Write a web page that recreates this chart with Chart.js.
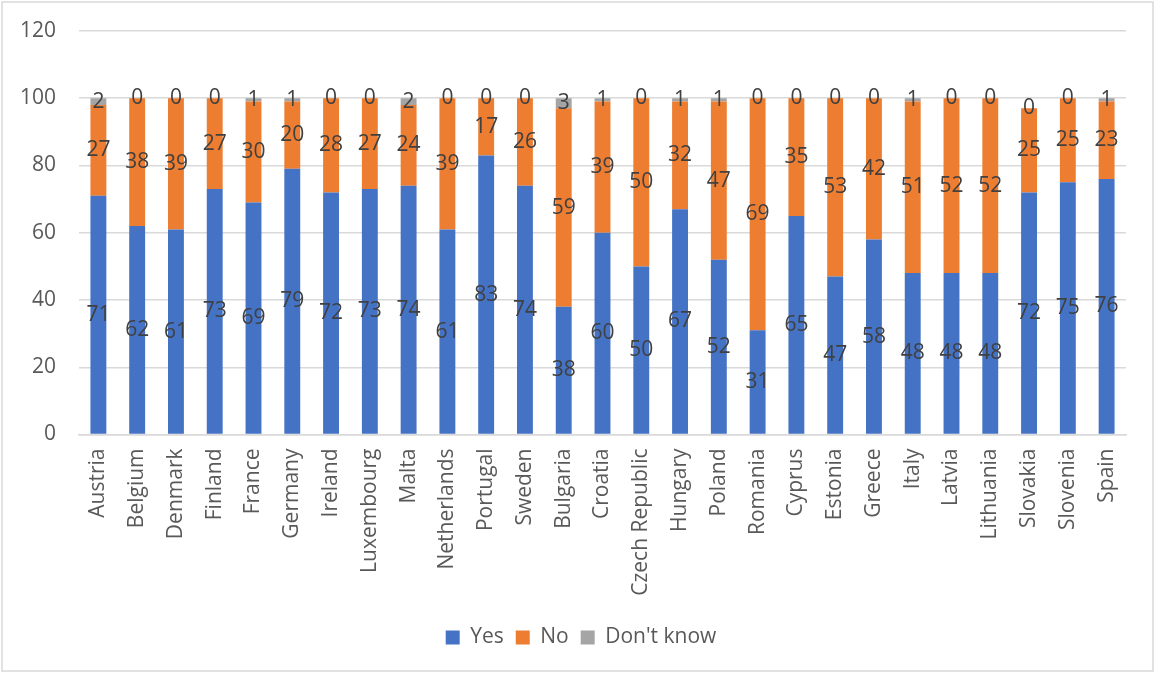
<!DOCTYPE html>
<html>
<head>
<meta charset="utf-8">
<title>Yes / No / Don't know by country</title>
<script src="https://cdn.jsdelivr.net/npm/chart.js@4/dist/chart.umd.min.js"></script>
<style>
    html, body { margin: 0; padding: 0; background: #fff; }
    #wrap { width: 1155px; height: 673px; position: relative; }
    canvas { display: block; }
</style>
</head>
<body>
<div id="wrap"><canvas id="chart" width="1155" height="673"></canvas></div>
<script>
const countries = ['Austria', 'Belgium', 'Denmark', 'Finland', 'France', 'Germany', 'Ireland',
    'Luxembourg', 'Malta', 'Netherlands', 'Portugal', 'Sweden', 'Bulgaria', 'Croatia',
    'Czech Republic', 'Hungary', 'Poland', 'Romania', 'Cyprus', 'Estonia', 'Greece', 'Italy',
    'Latvia', 'Lithuania', 'Slovakia', 'Slovenia', 'Spain'];
const yesValues = [71, 62, 61, 73, 69, 79, 72, 73, 74, 61, 83, 74, 38, 60, 50, 67, 52, 31, 65, 47, 58, 48, 48, 48, 72, 75, 76];
const noValues = [27, 38, 39, 27, 30, 20, 28, 27, 24, 39, 17, 26, 59, 39, 50, 32, 47, 69, 35, 53, 42, 51, 52, 52, 25, 25, 23];
const dontKnowValues = [2, 0, 0, 0, 1, 1, 0, 0, 2, 0, 0, 0, 3, 1, 0, 1, 1, 0, 0, 0, 0, 1, 0, 0, 0, 0, 1];
const seriesNames = ['Yes', 'No', "Don't know"];
const seriesColors = ['#4472C4', '#ED7D31', '#A5A5A5'];

const FONT = '"Open Sans", "Noto Sans", sans-serif';
const FONT_SIZE = 21;

// outer frame around the chart
const framePlugin = {
    id: 'frame',
    beforeDraw(chart) {
        const ctx = chart.ctx;
        ctx.save();
        ctx.strokeStyle = '#D9D9D9';
        ctx.lineWidth = 1.5;
        ctx.strokeRect(2, 2, chart.width - 4, chart.height - 4);
        ctx.restore();
    }
};

// nudge the legend a little to the right
const legendShift = {
    id: 'legendShift',
    afterLayout(chart) {
        chart.legend.left += 18;
        chart.legend.right += 18;
    }
};

// value labels in the middle of each segment
const valueLabels = {
    id: 'valueLabels',
    afterDatasetsDraw(chart) {
        const ctx = chart.ctx;
        ctx.save();
        ctx.font = FONT_SIZE + 'px ' + FONT;
        ctx.fillStyle = '#404040';
        ctx.textAlign = 'center';
        ctx.textBaseline = 'middle';
        chart.data.datasets.forEach((ds, di) => {
            const meta = chart.getDatasetMeta(di);
            meta.data.forEach((bar, i) => {
                const y = (bar.y + bar.base) / 2;
                ctx.fillText(String(ds.data[i]), bar.x, y);
            });
        });
        ctx.restore();
    }
};

new Chart(document.getElementById('chart'), {
    type: 'bar',
    data: {
        labels: countries,
        datasets: [yesValues, noValues, dontKnowValues].map((vals, i) => ({
            label: seriesNames[i],
            data: vals,
            backgroundColor: seriesColors[i],
            borderWidth: 0,
            categoryPercentage: 1,
            barPercentage: 0.41
        }))
    },
    options: {
        responsive: false,
        animation: false,
        layout: { padding: { top: 31, right: 29, left: 0, bottom: 15 } },
        plugins: {
            legend: {
                position: 'bottom',
                labels: {
                    font: { family: FONT, size: FONT_SIZE },
                    color: '#595959',
                    boxWidth: 14,
                    boxHeight: 14,
                    padding: 12
                }
            },
            tooltip: { enabled: false }
        },
        scales: {
            x: {
                stacked: true,
                grid: { display: false, drawTicks: false },
                border: { color: '#D9D9D9', width: 1.5 },
                ticks: {
                    font: { family: FONT, size: FONT_SIZE },
                    color: '#595959',
                    minRotation: 90,
                    maxRotation: 90,
                    autoSkip: false,
                    padding: 14
                },
                afterFit(scale) { scale.height = 180.5; }
            },
            y: {
                stacked: true,
                min: 0,
                max: 120,
                // invisible tick marks keep the labels clear of the plot
                grid: { color: '#D9D9D9', lineWidth: 1.5, tickLength: 23, tickColor: 'rgba(0,0,0,0)' },
                border: { display: false },
                ticks: {
                    stepSize: 20,
                    font: { family: FONT, size: FONT_SIZE },
                    color: '#595959',
                    padding: 0
                },
                afterFit(scale) { scale.width = 79; }
            }
        }
    },
    plugins: [framePlugin, legendShift, valueLabels]
});
</script>
</body>
</html>
